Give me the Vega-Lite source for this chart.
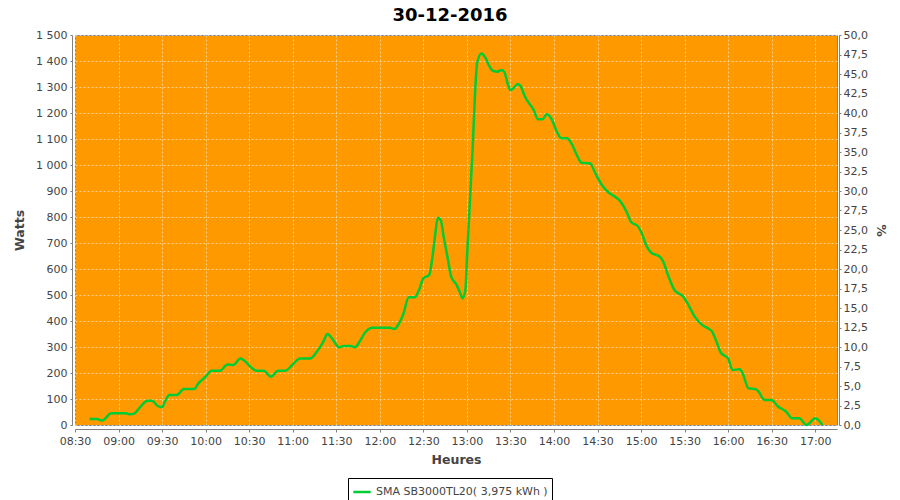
{
  "$schema": "https://vega.github.io/schema/vega-lite/v6.json",
  "width": 762,
  "height": 390,
  "autosize": {"type": "none"},
  "padding": {"left": 75, "top": 35, "right": 63, "bottom": 75},
  "background": "white",
  "title": {"text": "30-12-2016", "fontSize": 18, "font": "DejaVu Sans", "fontWeight": "bold", "color": "#000000", "anchor": "middle", "dx": -6, "offset": 4},
  "config": {
    "view": {"fill": "#ff9900", "stroke": "#808080", "strokeWidth": 1},
    "axis": {"labelFont": "DejaVu Sans", "labelFontSize": 11, "labelColor": "#444444", "titleFont": "DejaVu Sans", "titleFontSize": 12.5, "titleFontWeight": "bold", "titleColor": "#444444", "domainColor": "#808080", "tickColor": "#808080", "gridColor": "#ffffff", "gridOpacity": 0.55, "gridDash": [2, 2], "gridWidth": 1}
  },
  "layer": [
    {
      "data": {"values": [
        {"t": "2016-12-30T08:40:00", "w": 23},
        {"t": "2016-12-30T08:45:00", "w": 23},
        {"t": "2016-12-30T08:49:00", "w": 17},
        {"t": "2016-12-30T08:51:00", "w": 26},
        {"t": "2016-12-30T08:55:00", "w": 45},
        {"t": "2016-12-30T09:05:00", "w": 45},
        {"t": "2016-12-30T09:08:00", "w": 41},
        {"t": "2016-12-30T09:11:00", "w": 45},
        {"t": "2016-12-30T09:15:00", "w": 70},
        {"t": "2016-12-30T09:20:00", "w": 93},
        {"t": "2016-12-30T09:23:00", "w": 93},
        {"t": "2016-12-30T09:27:00", "w": 73},
        {"t": "2016-12-30T09:30:00", "w": 68},
        {"t": "2016-12-30T09:32:00", "w": 90},
        {"t": "2016-12-30T09:35:00", "w": 115},
        {"t": "2016-12-30T09:40:00", "w": 115},
        {"t": "2016-12-30T09:45:00", "w": 138},
        {"t": "2016-12-30T09:52:00", "w": 138},
        {"t": "2016-12-30T09:55:00", "w": 160},
        {"t": "2016-12-30T10:00:00", "w": 186},
        {"t": "2016-12-30T10:04:00", "w": 209},
        {"t": "2016-12-30T10:10:00", "w": 209},
        {"t": "2016-12-30T10:15:00", "w": 233},
        {"t": "2016-12-30T10:19:00", "w": 231},
        {"t": "2016-12-30T10:24:00", "w": 256},
        {"t": "2016-12-30T10:27:00", "w": 246},
        {"t": "2016-12-30T10:32:00", "w": 218},
        {"t": "2016-12-30T10:35:00", "w": 209},
        {"t": "2016-12-30T10:40:00", "w": 209},
        {"t": "2016-12-30T10:45:00", "w": 186},
        {"t": "2016-12-30T10:50:00", "w": 209},
        {"t": "2016-12-30T10:55:00", "w": 209},
        {"t": "2016-12-30T11:00:00", "w": 233},
        {"t": "2016-12-30T11:05:00", "w": 256},
        {"t": "2016-12-30T11:12:00", "w": 256},
        {"t": "2016-12-30T11:17:00", "w": 285},
        {"t": "2016-12-30T11:21:00", "w": 320},
        {"t": "2016-12-30T11:24:00", "w": 350},
        {"t": "2016-12-30T11:27:00", "w": 333},
        {"t": "2016-12-30T11:32:00", "w": 299},
        {"t": "2016-12-30T11:35:00", "w": 304},
        {"t": "2016-12-30T11:40:00", "w": 304},
        {"t": "2016-12-30T11:43:00", "w": 299},
        {"t": "2016-12-30T11:46:00", "w": 320},
        {"t": "2016-12-30T11:50:00", "w": 357},
        {"t": "2016-12-30T11:55:00", "w": 374},
        {"t": "2016-12-30T12:07:00", "w": 374},
        {"t": "2016-12-30T12:10:00", "w": 369},
        {"t": "2016-12-30T12:13:00", "w": 388},
        {"t": "2016-12-30T12:16:00", "w": 423},
        {"t": "2016-12-30T12:20:00", "w": 491},
        {"t": "2016-12-30T12:24:00", "w": 491},
        {"t": "2016-12-30T12:27:00", "w": 519},
        {"t": "2016-12-30T12:30:00", "w": 564},
        {"t": "2016-12-30T12:34:00", "w": 577},
        {"t": "2016-12-30T12:36:00", "w": 635},
        {"t": "2016-12-30T12:38:00", "w": 724},
        {"t": "2016-12-30T12:40:00", "w": 797},
        {"t": "2016-12-30T12:42:00", "w": 788},
        {"t": "2016-12-30T12:44:00", "w": 724},
        {"t": "2016-12-30T12:47:00", "w": 635},
        {"t": "2016-12-30T12:49:00", "w": 574},
        {"t": "2016-12-30T12:53:00", "w": 538},
        {"t": "2016-12-30T12:55:00", "w": 513},
        {"t": "2016-12-30T12:57:00", "w": 487},
        {"t": "2016-12-30T12:59:00", "w": 519},
        {"t": "2016-12-30T13:00:00", "w": 635},
        {"t": "2016-12-30T13:02:00", "w": 853},
        {"t": "2016-12-30T13:04:00", "w": 1070},
        {"t": "2016-12-30T13:06:00", "w": 1314},
        {"t": "2016-12-30T13:07:00", "w": 1391},
        {"t": "2016-12-30T13:10:00", "w": 1429},
        {"t": "2016-12-30T13:13:00", "w": 1410},
        {"t": "2016-12-30T13:15:00", "w": 1385},
        {"t": "2016-12-30T13:18:00", "w": 1362},
        {"t": "2016-12-30T13:21:00", "w": 1359},
        {"t": "2016-12-30T13:24:00", "w": 1365},
        {"t": "2016-12-30T13:26:00", "w": 1355},
        {"t": "2016-12-30T13:28:00", "w": 1314},
        {"t": "2016-12-30T13:30:00", "w": 1288},
        {"t": "2016-12-30T13:32:00", "w": 1295},
        {"t": "2016-12-30T13:35:00", "w": 1312},
        {"t": "2016-12-30T13:37:00", "w": 1304},
        {"t": "2016-12-30T13:40:00", "w": 1263},
        {"t": "2016-12-30T13:42:00", "w": 1244},
        {"t": "2016-12-30T13:46:00", "w": 1212},
        {"t": "2016-12-30T13:49:00", "w": 1176},
        {"t": "2016-12-30T13:52:00", "w": 1176},
        {"t": "2016-12-30T13:55:00", "w": 1195},
        {"t": "2016-12-30T13:58:00", "w": 1180},
        {"t": "2016-12-30T14:02:00", "w": 1128},
        {"t": "2016-12-30T14:05:00", "w": 1103},
        {"t": "2016-12-30T14:09:00", "w": 1103},
        {"t": "2016-12-30T14:12:00", "w": 1083},
        {"t": "2016-12-30T14:16:00", "w": 1035},
        {"t": "2016-12-30T14:19:00", "w": 1009},
        {"t": "2016-12-30T14:25:00", "w": 1006},
        {"t": "2016-12-30T14:28:00", "w": 974},
        {"t": "2016-12-30T14:33:00", "w": 923},
        {"t": "2016-12-30T14:37:00", "w": 897},
        {"t": "2016-12-30T14:42:00", "w": 878},
        {"t": "2016-12-30T14:45:00", "w": 865},
        {"t": "2016-12-30T14:50:00", "w": 820},
        {"t": "2016-12-30T14:53:00", "w": 782},
        {"t": "2016-12-30T14:58:00", "w": 763},
        {"t": "2016-12-30T15:00:00", "w": 743},
        {"t": "2016-12-30T15:04:00", "w": 686},
        {"t": "2016-12-30T15:07:00", "w": 663},
        {"t": "2016-12-30T15:13:00", "w": 647},
        {"t": "2016-12-30T15:15:00", "w": 631},
        {"t": "2016-12-30T15:19:00", "w": 570},
        {"t": "2016-12-30T15:23:00", "w": 519},
        {"t": "2016-12-30T15:29:00", "w": 494},
        {"t": "2016-12-30T15:32:00", "w": 468},
        {"t": "2016-12-30T15:37:00", "w": 417},
        {"t": "2016-12-30T15:42:00", "w": 385},
        {"t": "2016-12-30T15:46:00", "w": 372},
        {"t": "2016-12-30T15:49:00", "w": 359},
        {"t": "2016-12-30T15:52:00", "w": 320},
        {"t": "2016-12-30T15:55:00", "w": 278},
        {"t": "2016-12-30T16:00:00", "w": 256},
        {"t": "2016-12-30T16:03:00", "w": 212},
        {"t": "2016-12-30T16:08:00", "w": 214},
        {"t": "2016-12-30T16:10:00", "w": 199},
        {"t": "2016-12-30T16:14:00", "w": 141},
        {"t": "2016-12-30T16:19:00", "w": 138},
        {"t": "2016-12-30T16:21:00", "w": 128},
        {"t": "2016-12-30T16:25:00", "w": 96},
        {"t": "2016-12-30T16:30:00", "w": 96},
        {"t": "2016-12-30T16:34:00", "w": 73},
        {"t": "2016-12-30T16:40:00", "w": 51},
        {"t": "2016-12-30T16:44:00", "w": 26},
        {"t": "2016-12-30T16:49:00", "w": 26},
        {"t": "2016-12-30T16:54:00", "w": 0},
        {"t": "2016-12-30T17:00:00", "w": 26},
        {"t": "2016-12-30T17:05:00", "w": 0}
      ]},
      "mark": {"type": "line", "strokeWidth": 2.5, "interpolate": "monotone"},
      "encoding": {
        "x": {
          "field": "t", "type": "temporal", "title": "Heures",
          "scale": {"domain": [{"year": 2016, "month": 12, "date": 30, "hours": 8, "minutes": 30}, {"year": 2016, "month": 12, "date": 30, "hours": 17, "minutes": 15}]},
          "axis": {"format": "%H:%M", "tickCount": 18, "grid": true, "offset": 4, "tickSize": 3, "labelPadding": 3, "titlePadding": 7, "labelFlush": false, "labelOverlap": false}
        },
        "y": {
          "field": "w", "type": "quantitative", "title": "Watts",
          "scale": {"domain": [0, 1500], "nice": false},
          "axis": {"values": [0, 100, 200, 300, 400, 500, 600, 700, 800, 900, 1000, 1100, 1200, 1300, 1400, 1500], "labelExpr": "replace(format(datum.value, ','), ',', ' ')", "grid": true, "offset": 3, "tickSize": 2, "labelPadding": 3, "titlePadding": 9}
        },
        "color": {
          "datum": "SMA SB3000TL20( 3,975 kWh )",
          "type": "nominal",
          "scale": {"range": ["#00cc33"]},
          "legend": {"title": null, "orient": "none", "legendX": 273, "legendY": 443, "symbolType": "stroke", "symbolStrokeWidth": 2.5, "symbolSize": 300, "labelFont": "DejaVu Sans", "labelFontSize": 11, "labelColor": "#444444", "labelLimit": 0, "strokeColor": "#000000", "fillColor": "#ffffff", "padding": 4, "cornerRadius": 0}
        }
      }
    },
    {
      "data": {"values": [{"p": 0}]},
      "mark": {"type": "rule", "opacity": 0},
      "encoding": {
        "y": {
          "field": "p", "type": "quantitative", "title": "%",
          "scale": {"domain": [0, 50], "nice": false},
          "axis": {"orient": "right", "values": [0, 2.5, 5, 7.5, 10, 12.5, 15, 17.5, 20, 22.5, 25, 27.5, 30, 32.5, 35, 37.5, 40, 42.5, 45, 47.5, 50], "labelExpr": "replace(format(datum.value, '.1f'), '.', ',')", "grid": false, "offset": 2, "tickSize": 2, "labelPadding": 2, "titlePadding": 6}
        }
      }
    }
  ],
  "resolve": {"scale": {"y": "independent"}, "axis": {"y": "independent"}}
}
